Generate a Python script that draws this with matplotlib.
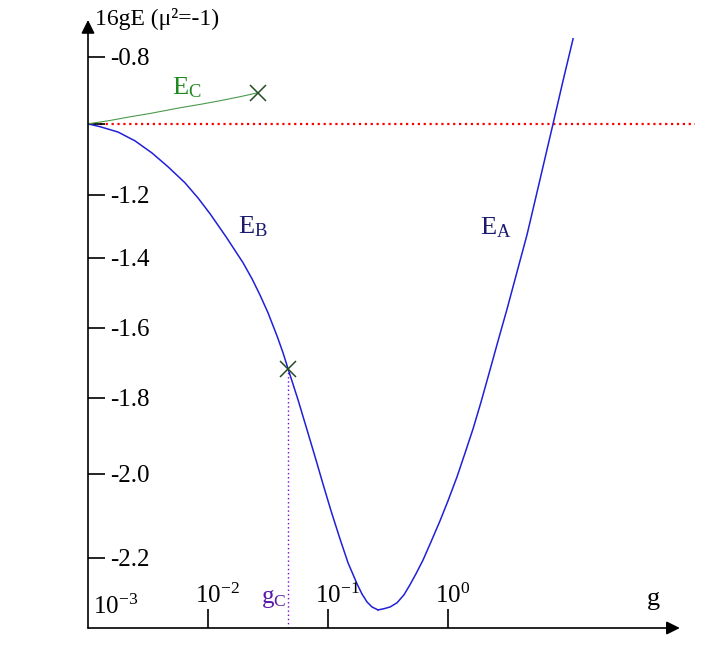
import numpy as np
import matplotlib
matplotlib.use("Agg")
import matplotlib.pyplot as plt
from matplotlib.transforms import offset_copy

plt.rcParams['font.family'] = ['Liberation Serif', 'DejaVu Serif']
plt.rcParams['mathtext.fontset'] = 'custom'
plt.rcParams['mathtext.rm'] = 'Liberation Serif'
plt.rcParams['mathtext.it'] = 'Liberation Serif:italic'

# branch B (from g = 1e-3 down to the minimum), values of log10(g) and 16gE
log_g_B = [-3.0, -2.9, -2.75, -2.608, -2.467, -2.333, -2.192, -2.083, -1.983,
           -1.85, -1.708, -1.633, -1.567, -1.5, -1.425, -1.375, -1.333, -1.25,
           -1.175, -1.108, -1.042, -0.975, -0.9, -0.833, -0.758, -0.717,
           -0.675, -0.633, -0.583]
E_B = [-1.0, -1.008, -1.023, -1.048, -1.082, -1.121, -1.166, -1.210, -1.260,
       -1.333, -1.414, -1.46, -1.506, -1.557, -1.623, -1.671, -1.717, -1.805,
       -1.884, -1.955, -2.024, -2.088, -2.155, -2.212, -2.262, -2.286,
       -2.305, -2.317, -2.324]

# branch A (from the minimum upwards)
log_g_A = [-0.583, -0.533, -0.483, -0.425, -0.367, -0.317, -0.267, -0.208,
           -0.142, -0.067, 0.0, 0.075, 0.142, 0.208, 0.275, 0.35, 0.417,
           0.492, 0.575, 0.658, 0.758, 0.875, 0.958, 1.042]
E_A = [-2.324, -2.321, -2.317, -2.307, -2.288, -2.264, -2.238, -2.205,
       -2.162, -2.112, -2.064, -2.007, -1.945, -1.882, -1.811, -1.72, -1.637,
       -1.546, -1.44, -1.327, -1.169, -1.0, -0.872, -0.746]

# branch C (ends at the crossing)
log_g_C = [-3.0, -2.817, -2.65, -2.483, -2.233, -2.067, -1.9, -1.733, -1.583]
E_C = [-1.0, -0.990, -0.979, -0.969, -0.952, -0.942, -0.931, -0.919, -0.907]

# the two crosses
cross_log_g = [-1.583, -1.333]
cross_E = [-0.907, -1.717]
g_crit = 10 ** cross_log_g[1]
E_ref = -1.0

ytick_vals = [-2.2, -2.0, -1.8, -1.6, -1.4, -1.2, -1.0, -0.8]
ytick_labels = ['-2.2', '-2.0', '-1.8', '-1.6', '-1.4', '-1.2', '', '-0.8']
xtick_vals = [1e-2, 1e-1, 1.0]
xtick_labels = [r'$10^{-2}$', r'$10^{-1}$', r'$10^{0}$']

# the original axis is not evenly spaced, so map it piecewise
axis_vals = [-2.4, -2.2, -2.0, -1.8, -1.6, -1.4, -1.2, -1.0, -0.8, -0.6]
axis_rows = [642, 558, 474, 398, 328, 258, 195, 124, 57, -10]


def forward(v):
    return -np.interp(v, axis_vals, axis_rows)


def inverse(u):
    return np.interp(-u, axis_rows[::-1], axis_vals[::-1])


fig = plt.figure(figsize=(7.07, 6.72), dpi=100)
ax = fig.add_axes([88 / 707, 44 / 672, 607 / 707, 608 / 672])

ax.set_xscale('log')
ax.set_yscale('function', functions=(forward, inverse))
ax.set_xlim(1e-3, 10 ** 2.058)
ax.set_ylim(-2.367, -0.69)

blue = '#2020d8'
ax.axhline(E_ref, color='red', ls=':', lw=1.6, zorder=1)
ax.plot(10 ** np.array(log_g_B), E_B, color=blue, lw=1.1, zorder=3)
ax.plot(10 ** np.array(log_g_A), E_A, color=blue, lw=1.1, zorder=3)
ax.plot(10 ** np.array(log_g_C), E_C, color='#4c9a4c', lw=0.8, zorder=3)
ax.vlines(g_crit, ax.get_ylim()[0], cross_E[1], color='#8000e0',
          ls=(0, (1, 2)), lw=1.0, zorder=2)
ax.plot(10 ** np.array(cross_log_g), cross_E, 'x', color='#234d23',
        ms=11, mew=1.1, zorder=4)

# axes with arrows
for s in ax.spines.values():
    s.set_visible(False)
arrow = dict(arrowstyle='-|>', color='k', lw=1.2, mutation_scale=20,
             shrinkA=0, shrinkB=0)
ax.annotate('', xy=(0.975, 0), xytext=(0, 0), xycoords='axes fraction',
            arrowprops=arrow, annotation_clip=False)
ax.annotate('', xy=(0, 1.0), xytext=(0, 0), xycoords='axes fraction',
            arrowprops=arrow, annotation_clip=False)

ax.set_yticks(ytick_vals, ytick_labels)
ax.yaxis.set_minor_locator(plt.NullLocator())
ax.tick_params(axis='y', direction='in', length=12.5, width=1.2, pad=-16,
               labelsize=18)
for lab in ax.get_yticklabels():
    lab.set_horizontalalignment('left')

ax.set_xticks(xtick_vals, [''] * len(xtick_vals))
ax.xaxis.set_minor_locator(plt.NullLocator())
ax.tick_params(axis='x', direction='in', length=13.7, width=1.2)

xt = ax.get_xaxis_transform()
for g, lab in zip(xtick_vals, xtick_labels):
    ax.text(g, 0, lab, fontsize=18, ha='left', va='baseline',
            transform=offset_copy(xt, fig=fig, x=-13, y=25, units='dots'))
ax.text(1e-3, 0, r'$10^{-3}$', fontsize=18, ha='left', va='baseline',
        transform=offset_copy(xt, fig=fig, x=5, y=14, units='dots'))
ax.text(g_crit, 0, r'$\mathrm{g}_\mathrm{C}$', fontsize=18, color='#5a1aa8',
        ha='right', va='baseline',
        transform=offset_copy(xt, fig=fig, x=-2, y=25, units='dots'))
ax.text(0.921, 0.038, 'g', fontsize=19, ha='left', va='baseline',
        transform=ax.transAxes)

fig.text(95 / 707, 1 - 25 / 672, '16gE (μ²=-1)', fontsize=17,
         ha='left', va='baseline')

# curve names
navy = '#1a1a70'
ax.text(10 ** -1.75, -1.321, r'$\mathrm{E}_\mathrm{B}$', fontsize=19,
        color=navy, va='baseline')
ax.text(10 ** 0.267, -1.327, r'$\mathrm{E}_\mathrm{A}$', fontsize=19,
        color=navy, va='baseline')
ax.text(10 ** -2.3, -0.913, r'$\mathrm{E}_\mathrm{C}$', fontsize=19,
        color='#1f8a1f', va='baseline')

fig.savefig('out.png', dpi=100)
